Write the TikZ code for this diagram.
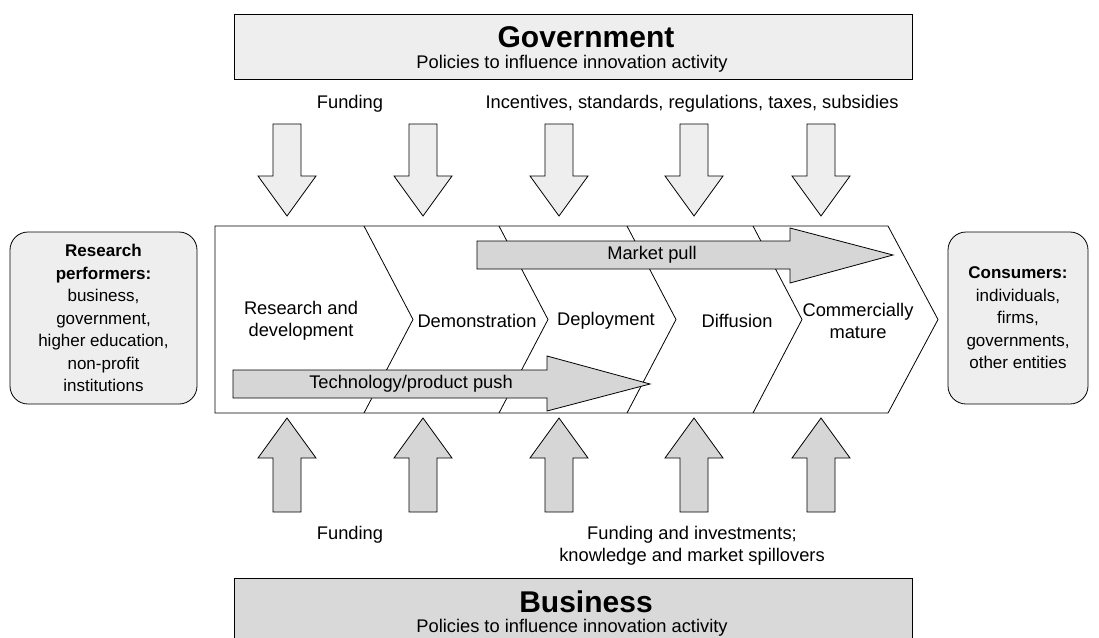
\documentclass[tikz,border=0pt]{standalone}
\usepackage{fontspec}
\setmainfont{Liberation Sans}
\usetikzlibrary{fit}
\definecolor{lightfill}{HTML}{EEEEEE}
\definecolor{midfill}{HTML}{D6D6D6}
\definecolor{busfill}{HTML}{D9D9D9}
\begin{document}
\begin{tikzpicture}[x=1pt,y=-1pt,
  outline/.style={draw=black, line width=0.8pt},
  txt/.style={font=\fontsize{18.3}{22}\selectfont, align=center, inner sep=0pt},
  stxt/.style={font=\fontsize{17}{22.5}\selectfont, align=center, inner sep=0pt},
  title/.style={font=\bfseries\fontsize{30}{32}\selectfont, inner sep=0pt},
  downarrow/.style={outline, fill=lightfill},
  uparrow/.style={outline, fill=midfill},
  flowarrow/.style={outline, fill=midfill},
  sidebox/.style={outline, fill=lightfill, rounded corners=18pt, inner sep=0pt}
]
\useasboundingbox (0,0) rectangle (1099,637);

% Government box
\coordinate (g1) at (234,14);
\coordinate (g2) at (912,79);
\node[outline, fill=lightfill, inner sep=0pt, fit=(g1)(g2)] (gov) {};
\node[title] (govtitle) at (586,37) {Government};
\node[txt] (govsub) at (572,64) {Policies to influence innovation activity};

% Business box
\coordinate (b1) at (234,578);
\coordinate (b2) at (912,660);
\node[outline, fill=busfill, inner sep=0pt, fit=(b1)(b2)] (bus) {};
\node[title] (bustitle) at (586,602) {Business};
\node[txt] (bussub) at (572,628) {Policies to influence innovation activity};

% top labels
\node[txt] (fundtop) at (350,104) {Funding};
\node[txt] (inctop) at (692,104) {Incentives, standards, regulations, taxes, subsidies};
% bottom labels
\node[txt] (fundbot) at (350,535) {Funding};
\node[txt] (invbot) at (692,546) {Funding and investments;\\knowledge and market spillovers};

% down and up arrows
\foreach \cx in {287,423,559,694,821} {
  \draw[downarrow] ({\cx-14},124) -- ({\cx+14},124) -- ({\cx+14},176) -- ({\cx+29},176)
     -- (\cx,216) -- ({\cx-29},176) -- ({\cx-14},176) -- cycle;
  \draw[uparrow] ({\cx-14},512) -- ({\cx+14},512) -- ({\cx+14},458) -- ({\cx+29},458)
     -- (\cx,418) -- ({\cx-29},458) -- ({\cx-14},458) -- cycle;
}

% chevrons
\draw[outline, fill=white] (215,226) -- (888,226) -- (938,319.5) -- (888,413) -- (215,413) -- cycle;
\foreach \tx in {364,499,627,753} {
  \draw[outline] (\tx,226) -- ({\tx+49},319.5) -- (\tx,413);
}

% flow arrows
\draw[flowarrow] (477,241) -- (790,241) -- (790,228) -- (893,255) -- (790,283) -- (790,269) -- (477,269) -- cycle;
\node[txt] (pull) at (652,255) {Market pull};
\draw[flowarrow] (233,370) -- (547,370) -- (547,356) -- (650,384) -- (547,411) -- (547,398) -- (233,398) -- cycle;
\node[txt] (push) at (411,384) {Technology/product push};

% stage labels
\node[txt] (rd) at (301,321) {Research and\\development};
\node[txt] (demo) at (477,321) {Demonstration};
\node[txt] (depl) at (606,321) {Deployment};
\node[txt] (diff) at (737,321) {Diffusion};
\node[txt] (comm) at (858,321) {Commercially\\mature};

% side boxes
\coordinate (p1) at (10,232);
\coordinate (p2) at (197,404);
\node[sidebox, fit=(p1)(p2)] (perf) {};
\node[stxt] (perftxt) at (perf.center) {\textbf{Research}\\\textbf{performers:}\\business,\\government,\\higher education,\\non-profit\\institutions};
\coordinate (c1) at (948,232);
\coordinate (c2) at (1088,404);
\node[sidebox, fit=(c1)(c2)] (cons) {};
\node[stxt] (constxt) at (cons.center) {\textbf{Consumers:}\\individuals,\\firms,\\governments,\\other entities};
\end{tikzpicture}
\end{document}
